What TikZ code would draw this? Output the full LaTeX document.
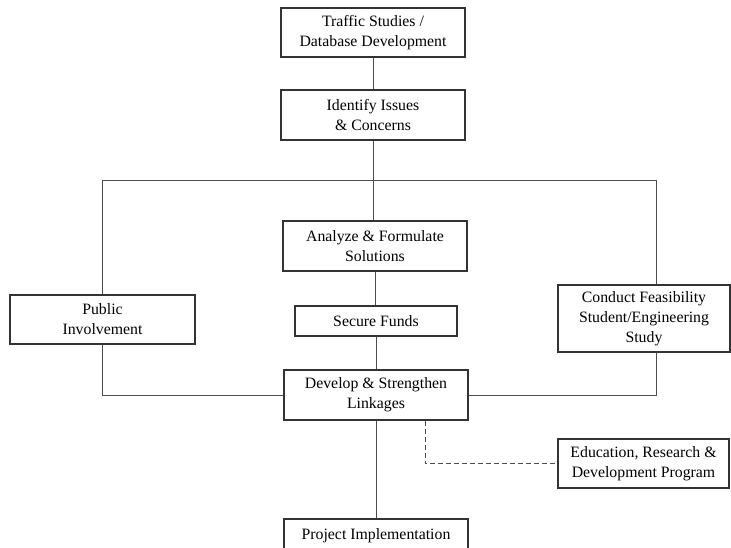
\documentclass[tikz,border=0pt]{standalone}
\usepackage{fontspec}
\setmainfont{Liberation Serif}
\begin{document}
\begin{tikzpicture}[x=1pt,y=-1pt,
  box/.style={draw=black!80,line width=1.1pt,fill=white,align=center,inner sep=0pt,
    font=\fontsize{15.8}{20}\selectfont},
  conn/.style={draw=black!70,line width=0.9pt},
  dconn/.style={draw=black!70,line width=0.9pt,dash pattern=on 5pt off 3pt}]
\useasboundingbox (0,0) rectangle (731,548);
\node[box,minimum width=184pt,minimum height=49pt] (tr) at (373,32.5) {Traffic Studies /\\Database Development};
\node[box,minimum width=184pt,minimum height=50pt] (id) at (373,115) {Identify Issues\\\& Concerns};
\node[box,minimum width=184pt,minimum height=50pt] (an) at (375,246) {Analyze \& Formulate\\Solutions};
\node[box,minimum width=162pt,minimum height=30pt] (sf) at (376,321) {Secure Funds};
\node[box,minimum width=184pt,minimum height=50pt] (dv) at (376,395) {Develop \& Strengthen\\Linkages};
\node[box,minimum width=185pt,minimum height=49pt] (pb) at (102.5,319.5) {Public\\Involvement};
\node[box,minimum width=172pt,minimum height=67pt] (fs) at (644,318.5) {Conduct Feasibility\\Student/Engineering\\Study};
\node[box,minimum width=171pt,minimum height=49pt] (ed) at (643.5,463.5) {Education, Research \&\\Development Program};
\node[box,minimum width=184pt,minimum height=33pt] (pi) at (376,535.5) {Project Implementation};
\coordinate (cl) at (102,180);
\coordinate (cr) at (656,180);
\coordinate (dx) at (425,420);
\draw[conn] (tr.south) -- (id.north);
\draw[conn] (id.south) -- (id.south |- an.north);
\draw[conn] (cl) -- (cr);
\draw[conn] (cl) -- (cl |- pb.north);
\draw[conn] (cr) -- (cr |- fs.north);
\draw[conn] (an.south) -- (sf.north -| an.south);
\draw[conn] (sf.south) -- (dv.north);
\draw[conn] (dv.south) -- (pi.north);
\draw[conn] (pb.south -| cl) -- (cl |- dv.west) -- (dv.west);
\draw[conn] (fs.south -| cr) -- (cr |- dv.east) -- (dv.east);
\draw[dconn] (dx |- dv.south) -- (dx |- ed.west) -- (ed.west);
\end{tikzpicture}
\end{document}
